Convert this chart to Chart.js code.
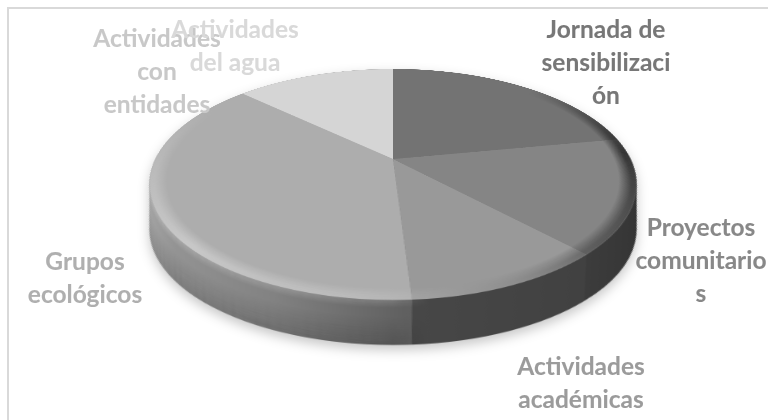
<!DOCTYPE html>
<html lang="es">
<head>
<meta charset="utf-8">
<title>Actividades</title>
<script src="https://cdn.jsdelivr.net/npm/chart.js@4/dist/chart.umd.min.js"></script>
<style>
  html, body { margin: 0; padding: 0; background: #fff; }
  #stage { position: relative; width: 768px; height: 420px; overflow: hidden; background: #fff; }
  #frame { position: absolute; left: 7px; top: 7px; width: 900px; height: 600px; border: 2px solid #d9d9d9; }
  #side-wrap { position: absolute; inset: 0; filter: drop-shadow(0 5px 6px rgba(0,0,0,.22)); }
  canvas { position: absolute; transform-origin: 50% 50%; }
  .lbl { position: absolute; transform: translateX(-50%); white-space: nowrap; text-align: center;
         font: bold 24.5px Lato, "Open Sans", sans-serif; line-height: 33px; -webkit-text-stroke: 0.1px currentColor; }
</style>
</head>
<body>
<div id="stage">
  <div id="frame"></div>
  <div id="side-wrap"><canvas id="pie-side"></canvas></div>
  <canvas id="pie-top"></canvas>
</div>
<script>
// ── Data ──────────────────────────────────────────────────────────────────────
const categories = [
  'Jornada de sensibilización',
  'Proyectos comunitarios',
  'Actividades académicas',
  'Grupos ecológicos',
  'Actividades con entidades',
  'Actividades del agua',
];
const values = [22, 16, 11, 38, 0, 13];

// Text breaks exactly as the picture has them
const labelLines = [
  ['Jornada de', 'sensibilizaci', 'ón'],
  ['Proyectos', 'comunitario', 's'],
  ['Actividades', 'académicas'],
  ['Grupos', 'ecológicos'],
  ['Actividades', 'con', 'entidades'],
  ['Actividades', 'del agua'],
];

// ── Styles ────────────────────────────────────────────────────────────────────
const TOP_COLORS   = ['#737373', '#858585', '#999999', '#adadad', '#c1c1c1', '#d5d5d5'];
const LABEL_COLORS = ['#777777', '#888888', '#9b9b9b', '#afafaf', '#c8c8c8', '#d9d9d9'];
const LABEL_POS = [[606, 12], [701, 210], [581, 349], [85, 244], [157, 21], [235, 12]];

// ── Tilt of the disc (perspective picked so the rim lands as in the picture) ──
const APEX_X = 393, APEX_Y = 159;
const R = 237.5, TILT = 62.44, PERSP = 953.6;
const Rc = R * Math.cos(TILT * Math.PI / 180);
const K = R * Math.sin(TILT * Math.PI / 180) / PERSP;
const DEPTH = 45;

function place(canvas, size) {
  canvas.style.left = (APEX_X - size / 2) + 'px';
  canvas.style.top  = (APEX_Y - size / 2) + 'px';
  canvas.style.width = canvas.style.height = size + 'px';
  canvas.style.transform = `perspective(${PERSP}px) rotateX(${TILT}deg)`;
}

const toPlane = y => y / (Rc + K * y);

// Circle lowered by h px on screen, expressed as a stretch on the tilted plane
function lowered(h) {
  const uF = toPlane(141 + h), uB = toPlane(-90 + h);
  const c = (uF + uB) / 2, b = (uF - uB) / 2;
  const uW = toPlane(25.5 + h);
  const xW = (243.5 / R) * (1 - K * uW);
  const a = xW / Math.sqrt(1 - Math.pow((uW - c) / b, 2));
  return { a, b, c };
}

function pieOptions(extra) {
  return {
    responsive: false, animation: false, devicePixelRatio: 2,
    layout: { padding: 0 },
    plugins: { legend: { display: false }, tooltip: { enabled: false } },
    ...extra,
  };
}

// ── Side wall ─────────────────────────────────────────────────────────────────
function sideGradient(ctx, cx, stops) {
  const g = ctx.createLinearGradient(cx - R, 0, cx + R, 0);
  stops.forEach(([p, col]) => g.addColorStop(p, col));
  return g;
}

// shade of the wall from rim to bottom edge; the rim glow stays on the lit left half
function wallShade(ctx, cx, h) {
  if (h < 8) {
    const a = 0.22 * (1 - h / 8);
    return sideGradient(ctx, cx, [[0, `rgba(255,255,255,${a})`], [0.5, `rgba(255,255,255,${a * 0.7})`], [0.56, 'rgba(255,255,255,0)'], [1, 'rgba(255,255,255,0)']]);
  }
  if (h > 16) {
    const a = 0.16 * (h - 16) / (DEPTH - 16);
    return sideGradient(ctx, cx, [[0, `rgba(0,0,0,${a})`], [0.5, `rgba(0,0,0,${a})`], [0.56, 'rgba(0,0,0,0)'], [1, 'rgba(0,0,0,0)']]);
  }
  return null;
}

const extrude = {
  id: 'extrude',
  beforeDatasetsDraw(chart) {
    const ctx = chart.ctx, arcs = chart.getDatasetMeta(0).data;
    const cx = arcs[0].x, cy = arcs[0].y;
    for (let h = DEPTH; h > 0; h -= 0.5) {
      const { a, b, c } = lowered(h);
      ctx.save();
      ctx.translate(cx, cy + c * R);
      ctx.scale(a, b);
      ctx.translate(-cx, -cy);
      arcs.forEach(arc => arc.draw(ctx));
      const shade = wallShade(ctx, cx, h);
      if (shade) {
        ctx.fillStyle = shade;
        ctx.beginPath();
        ctx.arc(cx, cy, R, 0, Math.PI * 2);
        ctx.fill();
      }
      ctx.restore();
    }
  },
};

function initSide() {
  const el = document.getElementById('pie-side');
  const size = 640;
  el.width = el.height = size;
  place(el, size);
  const g = el.getContext('2d');
  const cx = size / 2;
  const dark  = sideGradient(g, cx, [[0, '#3c3c3c'], [0.5, '#424242'], [0.85, '#3c3c3c'], [1, '#343434']]);
  const mid   = sideGradient(g, cx, [[0, '#4e4e4e'], [0.5, '#484848'], [1, '#3e3e3e']]);
  const light = sideGradient(g, cx, [[0, '#a8a8a8'], [0.1, '#949494'], [0.3, '#828282'], [0.52, '#606060'], [1, '#5a5a5a']]);
  new Chart(el, {
    type: 'pie',
    data: { labels: categories, datasets: [{
      data: values, radius: R, borderWidth: 0,
      backgroundColor: [dark, dark, mid, light, light, light],
    }] },
    options: pieOptions({}),
    plugins: [extrude],
  });
}

// ── Top face ──────────────────────────────────────────────────────────────────
const bevel = {
  id: 'bevel',
  afterDatasetsDraw(chart) {
    const ctx = chart.ctx, arc = chart.getDatasetMeta(0).data[0];
    const cx = arc.x, cy = arc.y;
    const glow = ctx.createConicGradient(-Math.PI / 2, cx, cy);
    glow.addColorStop(0,    'rgba(0,0,0,0)');
    glow.addColorStop(0.12, 'rgba(0,0,0,0)');
    glow.addColorStop(0.24, 'rgba(0,0,0,.6)');
    glow.addColorStop(0.38, 'rgba(40,40,40,.4)');
    glow.addColorStop(0.46, 'rgba(150,150,150,.2)');
    glow.addColorStop(0.52, 'rgba(255,255,255,.15)');
    glow.addColorStop(0.63, 'rgba(255,255,255,.32)');
    glow.addColorStop(0.75, 'rgba(255,255,255,.14)');
    glow.addColorStop(0.84, 'rgba(255,255,255,0)');
    glow.addColorStop(1,    'rgba(255,255,255,0)');
    ctx.save();
    ctx.strokeStyle = glow;
    ctx.lineWidth = 1.5;
    for (let f = 0.93; f < 1; f += 0.006) {
      ctx.globalAlpha = Math.min(1, (f - 0.93) / 0.05);
      ctx.beginPath();
      ctx.arc(cx, cy, f * R, 0, Math.PI * 2);
      ctx.stroke();
    }
    ctx.restore();
  },
};

function initTop() {
  const el = document.getElementById('pie-top');
  const size = 480;
  el.width = el.height = size;
  place(el, size);
  new Chart(el, {
    type: 'pie',
    data: { labels: categories, datasets: [{
      data: values, radius: R, borderWidth: 0, backgroundColor: TOP_COLORS,
    }] },
    options: pieOptions({}),
    plugins: [bevel],
  });
}

// ── Labels ────────────────────────────────────────────────────────────────────
function initLabels() {
  const stage = document.getElementById('stage');
  labelLines.forEach((lines, i) => {
    const d = document.createElement('div');
    d.className = 'lbl';
    d.style.left  = LABEL_POS[i][0] + 'px';
    d.style.top   = LABEL_POS[i][1] + 'px';
    d.style.color = LABEL_COLORS[i];
    d.innerHTML = lines.join('<br>');
    stage.appendChild(d);
  });
}

initSide();
initTop();
initLabels();
</script>
</body>
</html>
